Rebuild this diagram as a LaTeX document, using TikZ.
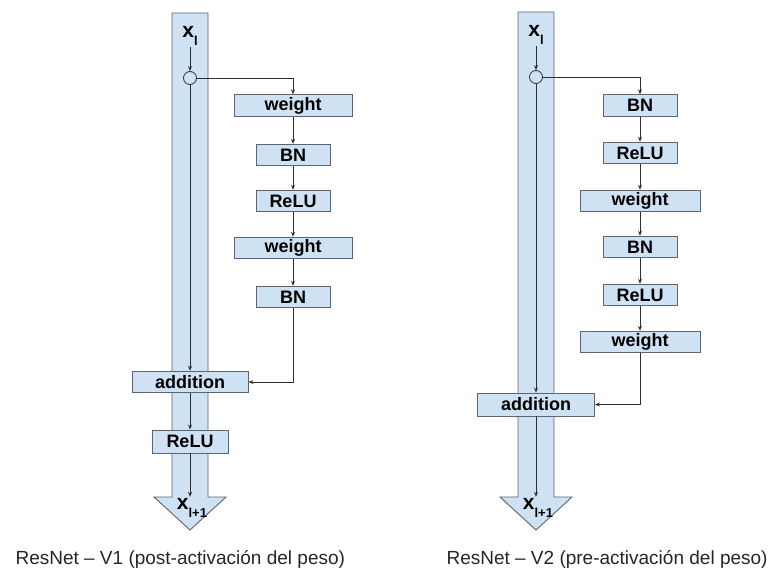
\documentclass[tikz,border=0pt]{standalone}
\usepackage{fontspec}
\setmainfont{Liberation Sans}
\usetikzlibrary{arrows.meta}
\definecolor{boxblue}{HTML}{CFE2F3}
\definecolor{edgegrey}{HTML}{5B6470}
\definecolor{linegrey}{HTML}{2E2E2E}
\newcommand{\xsub}[1]{\fontsize{21}{21}\selectfont\bfseries x\raisebox{-0.42em}{\fontsize{13}{13}\selectfont #1}}
\tikzset{
  blk/.style={draw=edgegrey, fill=boxblue, line width=0.9pt, inner sep=0pt,
    minimum height=21.5pt, font=\fontsize{18}{18}\selectfont\bfseries},
  wide/.style={blk, minimum width=118pt},
  narrow/.style={blk, minimum width=74pt},
  sumnode/.style={circle, draw=linegrey, fill=boxblue, line width=0.8pt, inner sep=0pt, minimum size=13pt},
  flow/.style={->, draw=linegrey, line width=0.8pt},
  shaft/.style={fill=boxblue, draw=edgegrey, line width=0.9pt},
  caption/.style={anchor=west, font=\fontsize{19}{19}\selectfont, text=black!85}
}
\begin{document}
\begin{tikzpicture}[x=1pt, y=-1pt, >={Stealth[length=5pt,width=4pt]}]
        \useasboundingbox (0,0) rectangle (768,572);
        % identity path, V1
        \filldraw[shaft] (172,13) -- (208,13) -- (208,497) -- (226,497) -- (190,530) -- (154,497) -- (172,497) -- cycle;
        % identity path, V2
        \filldraw[shaft] (518,12) -- (554,12) -- (554,497) -- (572,497) -- (536,530) -- (500,497) -- (518,497) -- cycle;

        % V1: post-activation
        \node [inner sep=1pt] (xl1) at (190,36) {\xsub{l}};
        \node [sumnode] (c1) at (190,78) {};
        \node [wide] (w1) at (293,105.5) {weight};
        \node [narrow] (bn1) at (293,155) {BN};
        \node [narrow] (relu1) at (293,201) {ReLU};
        \node [wide] (w2) at (293,248) {weight};
        \node [narrow] (bn2) at (293,297) {BN};
        \node [blk, minimum width=116pt] (add1) at (190,382) {addition};
        \node [blk, minimum width=76pt, minimum height=23pt] (relu2) at (190,441.5) {ReLU};
        \node [inner sep=1pt] (xo1) at (192,508) {\xsub{l+1}};
        \draw[flow] (xl1) -- (c1);
        \draw[flow] (c1) -| (w1);
        \draw[flow] (w1) -- (bn1);
        \draw[flow] (bn1) -- (relu1);
        \draw[flow] (relu1) -- (w2);
        \draw[flow] (w2) -- (bn2);
        \draw[flow] (bn2) |- (add1);
        \draw[flow] (c1) -- (add1);
        \draw[flow] (add1) -- (relu2);
        \draw[flow] (relu2) -- (relu2 |- xo1.north);

        % V2: pre-activation
        \node [inner sep=1pt] (xl2) at (536,35) {\xsub{l}};
        \node [sumnode] (c2) at (536,77) {};
        \node [narrow] (bn3) at (640,105.5) {BN};
        \node [narrow] (relu3) at (640,153) {ReLU};
        \node [blk, minimum width=120pt] (w3) at (640,201) {weight};
        \node [narrow] (bn4) at (640,247) {BN};
        \node [narrow] (relu4) at (640,295) {ReLU};
        \node [blk, minimum width=120pt] (w4) at (640,342) {weight};
        \node [blk, minimum width=117pt, minimum height=23pt] (add2) at (536,404.5) {addition};
        \node [inner sep=1pt] (xo2) at (538,508) {\xsub{l+1}};
        \draw[flow] (xl2) -- (c2);
        \draw[flow] (c2) -| (bn3);
        \draw[flow] (bn3) -- (relu3);
        \draw[flow] (relu3) -- (w3);
        \draw[flow] (w3) -- (bn4);
        \draw[flow] (bn4) -- (relu4);
        \draw[flow] (relu4) -- (w4);
        \draw[flow] (w4) |- (add2);
        \draw[flow] (c2) -- (add2);
        \draw[flow] (add2) -- (add2 |- xo2.north);

        \node [caption] (cap1) at (12,559) {ResNet – V1 (post-activación del peso)};
        \node [caption] (cap2) at (443,559) {ResNet – V2 (pre-activación del peso)};
    \end{tikzpicture}
\end{document}
